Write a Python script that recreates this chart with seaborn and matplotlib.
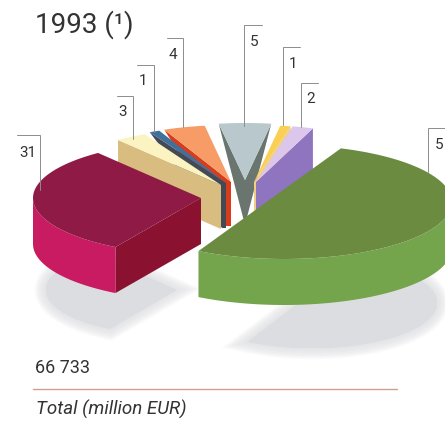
import numpy as np
import seaborn as sns
import matplotlib.pyplot as plt

# shares in percent, clockwise starting at the grey slice
labels = ['5', '1', '2', '5', '31', '3', '1', '4']
values = [5, 1, 2, 53, 31, 3, 1, 4]

# slice look
top_colors = ['#b9c8cc', '#f9cf55', '#dcc6ec', '#6a8b40', '#8f1a45', '#fbf4c2', '#41709a', '#f79c66']
rim_colors = ['#6a7570', '#f0cf85', '#8f74bf', '#74a44c', '#c81b62', '#d9bd80', '#444a55', '#d83c1a']
wall_colors = ['#6a7570', '#f0cf85', '#8f74bf', '#74a44c', '#8a1230', '#d9bd80', '#444a55', '#d83c1a']
apex_x = [245, 254, 256, 284, 201, 221, 226, 231]
apex_y = [180, 182, 182, 202, 198, 185, 183, 182]
wall_depth = [45, 42, 42, 46, 46, 44, 45, 44]
rim_depth = [0, 42, 42, 46, 46, 44, 0, 0]
wall_width = [0, 0, 0, 0, 0, 0, 4, 6]

rx, ry = 168, 57
start_angle = 99

# theta1 > theta2, going clockwise
stops = start_angle - np.cumsum([0] + values) * 3.6


def rim(i, a, b, n=80):
    t = np.radians(np.linspace(a, b, n))
    return apex_x[i] + rx * np.cos(t), apex_y[i] - ry * np.sin(t)


def draw_wall(ax, i, angle):
    t = np.radians(angle)
    px = apex_x[i] + rx * np.cos(t)
    py = apex_y[i] - ry * np.sin(t)
    bottom = apex_y[i] + wall_depth[i]
    ax.fill([px, apex_x[i], apex_x[i], apex_x[i] - wall_width[i], px],
            [py, apex_y[i], bottom, bottom, py + rim_depth[i]],
            color=wall_colors[i], lw=0)


def draw_slice(ax, i):
    a, b = stops[i], stops[i + 1]
    if np.cos(np.radians(a)) < 0:
        draw_wall(ax, i, a)
    if np.cos(np.radians(b)) > 0:
        draw_wall(ax, i, b)

    # front of the rim, only the part facing down
    lo, hi = max(b, -180), min(a, 0)
    if hi > lo:
        x, y = rim(i, lo, hi)
        ax.fill(np.r_[x, x[::-1]], np.r_[y, y[::-1] + rim_depth[i]], color=rim_colors[i], lw=0)

    x, y = rim(i, a, b)
    if a - b < 180:
        x = np.r_[apex_x[i], x]
        y = np.r_[apex_y[i], y]
    ax.fill(x, y, color=top_colors[i], lw=0)


def draw_shadow(ax, x0, y0, a, b, sx, sy):
    t = np.radians(np.linspace(a, b, 80))
    x = x0 + sx * np.cos(t)
    y = y0 - sy * np.sin(t)
    if a - b < 180:
        x = np.r_[x0, x]
        y = np.r_[y0, y]
    for lw in range(16, 0, -2):
        ax.fill(x, y, facecolor='#dcdde1', edgecolor='#dcdde1', lw=lw, alpha=0.14)
    ax.fill(x, y, color='#dcdde1', lw=0)


sns.set_theme(style='white')
plt.rcParams['font.family'] = ['Roboto', 'DejaVu Sans']

fig = plt.figure(figsize=(4.45, 4.22), dpi=100)
ax = fig.add_axes([0, 0, 1, 1])
ax.set_xlim(0, 445)
ax.set_ylim(422, 0)
ax.axis('off')

draw_shadow(ax, 176, 290, stops[4], stops[5], 130, 45)
draw_shadow(ax, 312, 303, stops[3], stops[4], 125, 45)

for i in [0, 7, 6, 5, 1, 2, 3, 4]:
    draw_slice(ax, i)

# leaders: corner x, corner y, end y, x of the short end, label position
lead_x = [244, 283, 301, 428, 40, 133, 154, 183]
lead_y = [25, 47, 83, 128, 135, 96, 65, 38]
lead_end = [126, 125, 127, 172, 190, 139, 132, 127]
lead_tip = [262, 300, 318, 445, 17, 117, 137, 167]
label_x = [254, 293, 311, 439, 28, 123, 143, 173]
label_y = [42, 64, 99, 145, 153, 112, 81, 55]

for i in range(len(labels)):
    ax.plot([lead_tip[i], lead_x[i], lead_x[i]], [lead_y[i], lead_y[i], lead_end[i]],
            color='#8c8c8c', lw=0.7, solid_joinstyle='miter')
    ax.text(label_x[i], label_y[i], labels[i], fontsize=11, color='#333333', va='center', ha='center')

ax.text(35, 33, '1993 (¹)', fontsize=20, color='#333333', va='baseline')
ax.text(35, 373, '66 733', fontsize=13, color='#333333', va='baseline')
ax.plot([33, 397], [388.5, 388.5], color='#cf9f90', lw=1)
ax.text(36, 415, 'Total (million EUR)', fontsize=13.5, style='italic', color='#333333', va='baseline')

sns.despine(ax=ax, left=True, bottom=True)
fig.savefig('out.png', dpi=100)
